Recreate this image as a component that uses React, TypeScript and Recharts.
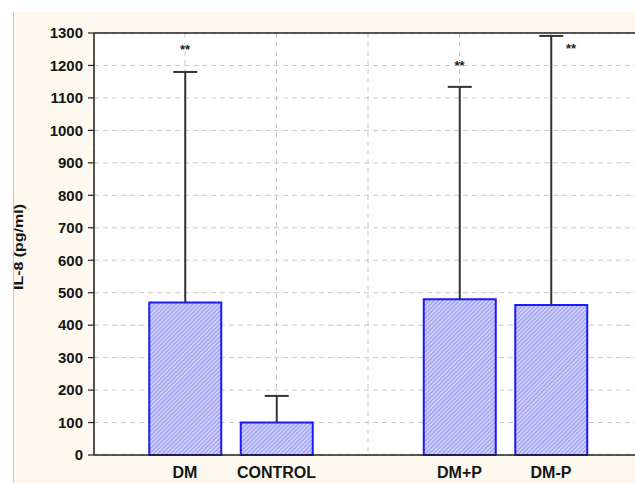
import React from 'react';
import {
  Bar,
  BarChart,
  CartesianGrid,
  ReferenceDot,
  ReferenceLine,
  XAxis,
  YAxis,
} from 'recharts';

// groups on the x axis (the empty slot is the gap between the two panels)
const groups = ['DM', 'CONTROL', '', 'DM+P', 'DM-P'];
// mean IL-8 per group (pg/ml)
const means = [470, 100, null, 480, 462];
// upper error (SD) added on top of the mean
const upperErr = [710, 82, null, 654, 829];
// significance marks and the value where they sit
const stars = [
  { group: 'DM', at: 1248 },
  { group: 'DM+P', at: 1201 },
  { group: 'DM-P', at: 1254 },
];
const yTicks = [0, 100, 200, 300, 400, 500, 600, 700, 800, 900, 1000, 1100, 1200, 1300];

const chartData = groups.map((g, i) => ({ group: g, mean: means[i], err: upperErr[i] }));

const font = 'Arial, "Liberation Sans", sans-serif';

const Whisker = (props: any) => {
  const { x, y, width, height } = props;
  if (height == null || isNaN(height) || height <= 0) return null;
  const cx = x + width / 2;
  return (
    <g stroke="#333" strokeWidth={2}>
      <line x1={cx} y1={y + height} x2={cx} y2={y} />
      <line x1={cx - 12} y1={y} x2={cx + 12} y2={y} />
    </g>
  );
};

export default function App() {
  return (
    <div
      style={{
        position: 'fixed',
        left: 0,
        top: 0,
        width: 635,
        height: 483,
        overflow: 'hidden',
        background: '#fff',
      }}
    >
      <div
        style={{
          position: 'absolute',
          left: 13,
          top: 12,
          width: 700,
          height: 480,
          background: '#fdf9ef',
          borderLeft: '1px solid #c4c4c4',
        }}
      />
      <div style={{ position: 'absolute', left: 0, top: 0 }}>
        <BarChart
          width={660}
          height={483}
          data={chartData}
          margin={{ top: 33, right: 17, bottom: 0, left: 0 }}
          barSize={72}
        >
          <defs>
            <pattern
              id="hatch"
              width="3"
              height="3"
              patternUnits="userSpaceOnUse"
              patternTransform="rotate(45)"
            >
              <rect width="3" height="3" fill="#ccccf9" />
              <line x1="0" y1="0" x2="0" y2="3" stroke="#8a8af0" strokeWidth="1.5" />
            </pattern>
          </defs>
          <CartesianGrid
            fill="#fff"
            stroke="#c8c8c8"
            strokeDasharray="5 4"
            strokeWidth={1}
          />
          <XAxis
            dataKey="group"
            height={28}
            padding={{ left: 45.25, right: 46.25 }}
            axisLine={{ stroke: '#222', strokeWidth: 1.5 }}
            tickLine={false}
            tickMargin={6}
            interval={0}
            tick={{ fill: '#151515', fontSize: 16, fontWeight: 700, fontFamily: font }}
          />
          <YAxis
            width={94}
            domain={[0, 1300]}
            ticks={yTicks}
            interval={0}
            axisLine={{ stroke: '#222', strokeWidth: 1.5 }}
            tickLine={{ stroke: '#222', strokeWidth: 1.2 }}
            tickSize={6}
            tickMargin={5}
            tick={{ fill: '#151515', fontSize: 15, fontWeight: 700, fontFamily: font }}
            label={{
              content: () => (
                <text
                  x={23}
                  y={247}
                  transform="rotate(-90 23 247)"
                  textAnchor="middle"
                  textLength={86}
                  lengthAdjust="spacingAndGlyphs"
                  fill="#151515"
                  fontSize={13}
                  fontWeight={700}
                  fontFamily={font}
                >
                  IL-8 (pg/ml)
                </text>
              ),
            }}
          />
          <ReferenceLine y={1300} stroke="#222" strokeWidth={1.5} />
          <Bar
            dataKey="mean"
            stackId="a"
            fill="url(#hatch)"
            stroke="#1a1aff"
            strokeWidth={2}
            isAnimationActive={false}
          />
          <Bar dataKey="err" stackId="a" shape={Whisker} isAnimationActive={false} />
          {stars.map((s) => (
            <ReferenceDot
              key={s.group}
              x={s.group}
              y={s.at}
              r={0}
              stroke="none"
              label={{
                value: '**',
                position: 'center',
                dx: s.group === 'DM-P' ? 20 : 0,
                fill: '#222',
                fontSize: 13,
                fontWeight: 700,
                fontFamily: font,
              }}
            />
          ))}
        </BarChart>
      </div>
    </div>
  );
}
